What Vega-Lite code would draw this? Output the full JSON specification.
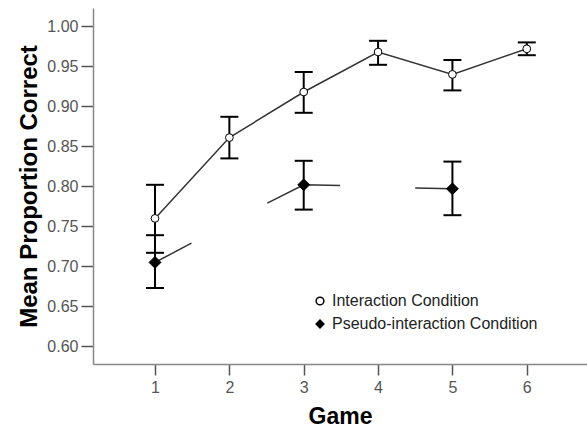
{
  "$schema": "https://vega.github.io/schema/vega-lite/v6.json",
  "width": 494,
  "height": 356,
  "autosize": {"type": "none"},
  "padding": {"left": 93, "top": 8, "right": 0, "bottom": 66},
  "background": "white",
  "config": {
    "view": {"stroke": null},
    "font": "Liberation Sans",
    "axis": {
      "grid": false,
      "domainColor": "#888888",
      "domainWidth": 1.5,
      "tickColor": "#555555",
      "tickWidth": 1.5,
      "labelColor": "#555555",
      "labelFont": "Liberation Sans",
      "labelFontSize": 16,
      "titleFont": "Liberation Sans",
      "titleFontWeight": "bold",
      "titleColor": "#000000"
    },
    "legend": {
      "orient": "none",
      "legendX": 219,
      "legendY": 285,
      "labelFont": "Liberation Sans",
      "labelFontSize": 16,
      "labelColor": "#222222",
      "labelLimit": 400,
      "symbolSize": 60,
      "rowPadding": 7,
      "labelOffset": 4
    }
  },
  "datasets": {
    "means": [
      {"game": 1, "cond": "Interaction Condition", "mean": 0.760, "lo": 0.717, "hi": 0.802},
      {"game": 2, "cond": "Interaction Condition", "mean": 0.861, "lo": 0.835, "hi": 0.887},
      {"game": 3, "cond": "Interaction Condition", "mean": 0.918, "lo": 0.892, "hi": 0.943},
      {"game": 4, "cond": "Interaction Condition", "mean": 0.968, "lo": 0.952, "hi": 0.982},
      {"game": 5, "cond": "Interaction Condition", "mean": 0.940, "lo": 0.920, "hi": 0.958},
      {"game": 6, "cond": "Interaction Condition", "mean": 0.972, "lo": 0.964, "hi": 0.980},
      {"game": 1, "cond": "Pseudo-interaction Condition", "mean": 0.705, "lo": 0.673, "hi": 0.739},
      {"game": 3, "cond": "Pseudo-interaction Condition", "mean": 0.802, "lo": 0.771, "hi": 0.832},
      {"game": 5, "cond": "Pseudo-interaction Condition", "mean": 0.797, "lo": 0.764, "hi": 0.831}
    ],
    "segs": [
      {"seg": "I", "game": 1, "value": 0.760},
      {"seg": "I", "game": 2, "value": 0.861},
      {"seg": "I", "game": 3, "value": 0.918},
      {"seg": "I", "game": 4, "value": 0.968},
      {"seg": "I", "game": 5, "value": 0.940},
      {"seg": "I", "game": 6, "value": 0.972},
      {"seg": "P1", "game": 1, "value": 0.705},
      {"seg": "P1", "game": 1.49, "value": 0.729},
      {"seg": "P3", "game": 2.51, "value": 0.779},
      {"seg": "P3", "game": 3, "value": 0.802},
      {"seg": "P3", "game": 3.49, "value": 0.801},
      {"seg": "P5", "game": 4.5, "value": 0.798},
      {"seg": "P5", "game": 5, "value": 0.797}
    ]
  },
  "layer": [
    {
      "data": {"name": "segs"},
      "mark": {"type": "line", "color": "#333333", "strokeWidth": 1.5},
      "encoding": {
        "x": {"field": "game", "type": "quantitative", "scale": {"domain": [0.166, 6.81], "nice": false, "zero": false},
          "axis": {"title": "Game", "titleFontSize": 23, "titlePadding": 10, "values": [1, 2, 3, 4, 5, 6], "format": "d", "tickSize": 11, "labelPadding": 4, "labelFontSize": 16}},
        "y": {"field": "value", "type": "quantitative", "scale": {"domain": [0.578, 1.023], "nice": false, "zero": false},
          "axis": {"title": "Mean Proportion Correct", "titleFontSize": 24, "titlePadding": 5, "values": [0.6, 0.65, 0.7, 0.75, 0.8, 0.85, 0.9, 0.95, 1.0], "format": ".2f", "tickSize": 12, "labelPadding": 3, "labelFontSize": 16}},
        "detail": {"field": "seg"}
      }
    },
    {
      "data": {"name": "means"},
      "mark": {"type": "rule", "color": "black", "strokeWidth": 2},
      "encoding": {
        "x": {"field": "game", "type": "quantitative"},
        "y": {"field": "lo", "type": "quantitative"},
        "y2": {"field": "hi"}
      }
    },
    {
      "data": {"name": "means"},
      "transform": [{"fold": ["lo", "hi"], "as": ["end", "val"]}],
      "mark": {"type": "tick", "orient": "horizontal", "size": 18, "thickness": 2, "color": "black", "opacity": 1},
      "encoding": {
        "x": {"field": "game", "type": "quantitative"},
        "y": {"field": "val", "type": "quantitative"}
      }
    },
    {
      "data": {"name": "means"},
      "mark": {"type": "point", "stroke": "black", "strokeWidth": 1, "opacity": 1},
      "encoding": {
        "x": {"field": "game", "type": "quantitative"},
        "y": {"field": "mean", "type": "quantitative"},
        "shape": {"field": "cond", "type": "nominal", "title": null,
          "scale": {"domain": ["Interaction Condition", "Pseudo-interaction Condition"], "range": ["circle", "diamond"]},
          "legend": {"encode": {"symbols": {"update": {
            "stroke": {"value": "black"},
            "strokeWidth": {"value": 1},
            "size": {"signal": "datum.value === 'Pseudo-interaction Condition' ? 100 : 50"}
          }}}}},
        "fill": {"field": "cond", "type": "nominal", "title": null,
          "scale": {"domain": ["Interaction Condition", "Pseudo-interaction Condition"], "range": ["white", "black"]}},
        "size": {"condition": {"test": "datum.cond === 'Pseudo-interaction Condition'", "value": 140}, "value": 60}
      }
    }
  ]
}
